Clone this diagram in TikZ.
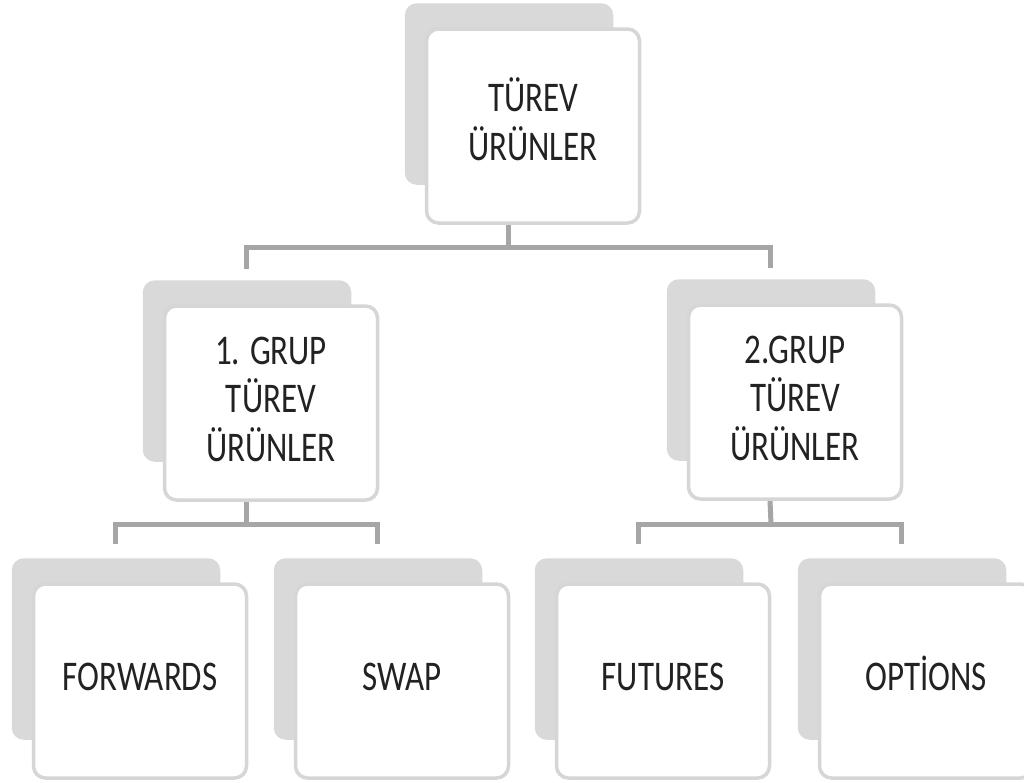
\documentclass[tikz,border=0pt]{standalone}
\usepackage{fontspec}
\setmainfont{Carlito}
\usepackage{graphicx}
\usetikzlibrary{backgrounds,calc}
\definecolor{shadowc}{HTML}{D9D9D9}
\definecolor{borderc}{HTML}{D6D6D6}
\definecolor{connc}{HTML}{A6A6A6}
\definecolor{textc}{HTML}{222222}
\newcommand{\boxtext}[1]{\scalebox{1}[1.28]{\begin{tabular}{@{}c@{}}#1\end{tabular}}}
\tikzset{
  cardbox/.style={draw=borderc, line width=3.5pt, fill=white, rounded corners=12pt,
    minimum width=213pt, minimum height=194pt, inner sep=0pt, text=textc,
    font=\fontsize{33}{38}\selectfont},
  conn/.style={draw=connc, line width=5pt},
  shadowfill/.style={fill=shadowc, rounded corners=12pt}
}
\begin{document}
\begin{tikzpicture}[x=1pt,y=-1pt]
\useasboundingbox (0,0) rectangle (1024,782);
\node[cardbox] (top)  at (533,126) {\boxtext{TÜREV\\ÜRÜNLER}};
\node[cardbox] (midL) at (271,403) {\boxtext{1. GRUP\\TÜREV\\ÜRÜNLER}};
\node[cardbox] (midR) at (795,402) {\boxtext{2.GRUP\\TÜREV\\ÜRÜNLER}};
\node[cardbox] (fw)   at (140,681) {\boxtext{FORWARDS}};
\node[cardbox] (sw)   at (402,681) {\boxtext{SWAP}};
\node[cardbox] (fu)   at (663,681) {\boxtext{FUTURES}};
\node[cardbox] (op)   at (926,681) {\boxtext{OPTİONS}};
\begin{scope}[on background layer]
  \fill[white] (0,0) rectangle (1024,782);
  \coordinate (b1) at (508,247);
  \coordinate (b2) at (246,524);
  \coordinate (b3) at (771,524);
  \draw[conn] ([xshift=-25pt]top.south) -- (b1);
  \draw[conn] ([shift={(-25pt,35pt)}]midL.north) |- (b1) -| ([shift={(-25pt,35pt)}]midR.north);
  \draw[conn] ([xshift=-25pt]midL.south) -- (b2);
  \draw[conn] ([shift={(-25pt,38pt)}]fw.north) |- (b2) -| ([shift={(-25pt,38pt)}]sw.north);
  \draw[conn] ([xshift=-25pt]midR.south) -- (b3);
  \draw[conn] ([shift={(-25pt,38pt)}]fu.north) |- (b3) -| ([shift={(-25pt,38pt)}]op.north);
  \foreach \n in {top,midL,midR,fw,sw,fu,op}{
    \fill[shadowfill] ([shift={(-20pt,24pt)}]\n.north west) rectangle ([shift={(-28pt,40pt)}]\n.south east);
  }
\end{scope}
\end{tikzpicture}
\end{document}
